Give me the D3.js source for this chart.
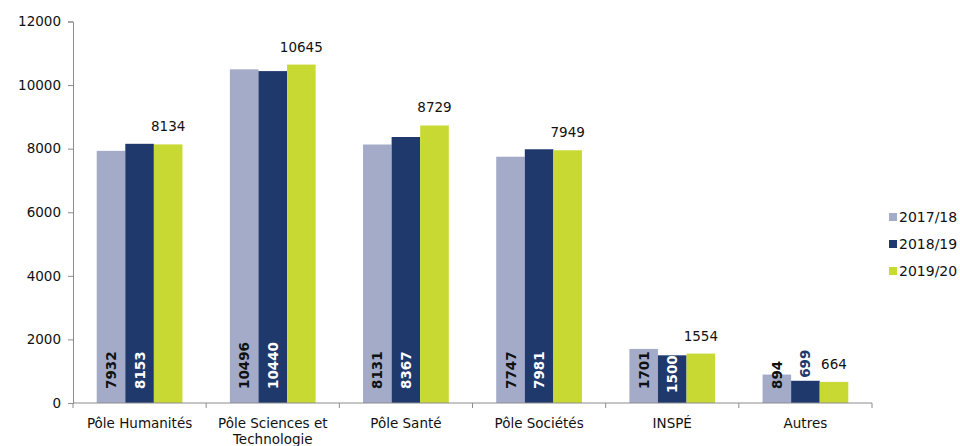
<!DOCTYPE html>
<html><head><meta charset="utf-8">
<script src="https://cdn.jsdelivr.net/npm/d3@7"></script>
<style>
body{margin:0;background:#fff;}
svg{display:block;font-family:"DejaVu Sans",sans-serif;}
</style></head>
<body><svg id="c" width="960" height="446"></svg>
<script>
const categories = ["Pôle Humanités","Pôle Sciences et Technologie","Pôle Santé","Pôle Sociétés","INSPÉ","Autres"];
const seriesNames = ["2017/18","2018/19","2019/20"];
const values2017 = [7932,10496,8131,7747,1701,894];
const values2018 = [8153,10440,8367,7981,1500,699];
const values2019 = [8134,10645,8729,7949,1554,664];
const yTicks = [0,2000,4000,6000,8000,10000,12000];
const colors = ["#a3abc8","#1f396d","#c9d934"];

const svg = d3.select("#c");
const x0 = d3.scaleBand().domain(categories).range([73,872]).paddingInner(0).paddingOuter(0);
const x1 = d3.scaleBand().domain(seriesNames).range([0,x0.bandwidth()]).paddingInner(0).paddingOuter(0.83);
const y = d3.scaleLinear().domain([0,12000]).range([403,21.5]);

const allVals = [values2017,values2018,values2019];

// bars
categories.forEach((c,i)=>{
  seriesNames.forEach((s,j)=>{
    const v = allVals[j][i];
    svg.append("rect")
      .attr("x", x0(c)+x1(s)).attr("y", y(v))
      .attr("width", x1.bandwidth()).attr("height", y(0)-y(v))
      .attr("fill", colors[j]);
  });
});

// y axis
const yAxis = svg.append("g").attr("transform","translate(73,0)")
  .call(d3.axisLeft(y).tickValues(yTicks).tickSize(5).tickPadding(7).tickFormat(d3.format("d")));
yAxis.select(".domain").attr("stroke","#8c8c8c");
yAxis.selectAll(".tick line").attr("stroke","#8c8c8c");
yAxis.selectAll("text").attr("font-size",13.5).attr("fill","#111").attr("font-family","DejaVu Sans, sans-serif");

// x axis line and ticks at boundaries
const xg = svg.append("g");
xg.append("line").attr("x1",73).attr("x2",872).attr("y1",y(0)).attr("y2",y(0)).attr("stroke","#8c8c8c");
const bounds = categories.map(c=>x0(c)).concat([x0(categories[categories.length-1])+x0.bandwidth()]);
bounds.forEach(b=>{
  xg.append("line").attr("x1",b).attr("x2",b).attr("y1",y(0)).attr("y2",y(0)+5).attr("stroke","#8c8c8c");
});
// x labels
categories.forEach(c=>{
  const cx = x0(c)+x0.bandwidth()/2;
  const t = svg.append("text").attr("x",cx).attr("y",428).attr("text-anchor","middle")
    .attr("font-size",13.5).attr("fill","#111");
  if (c==="Pôle Sciences et Technologie") {
    t.append("tspan").attr("x",cx).attr("dy",0).text("Pôle Sciences et");
    t.append("tspan").attr("x",cx).attr("dy",16).text("Technologie");
  } else t.text(c);
});

function baseLabel(cx, v, fill){
  const t = svg.append("text").attr("font-size",13.5).attr("font-weight","bold").attr("fill",fill).text(v);
  const len = t.node().getComputedTextLength();
  let bottom = y(0)-14;
  const fitBottom = y(v)+len;
  if (fitBottom <= y(0)-5) bottom = Math.max(bottom, fitBottom);
  t.attr("transform",`translate(${cx},${bottom}) rotate(-90)`);
}

// value labels
categories.forEach((c,i)=>{
  const s3 = seriesNames[2];
  svg.append("text").attr("x", x0(c)+x1(s3)+x1.bandwidth()/2).attr("y", y(values2019[i])-13)
    .attr("text-anchor","middle").attr("font-size",13.5).attr("fill","#111").text(values2019[i]);
  const s1 = seriesNames[0];
  baseLabel(x0(c)+x1(s1)+x1.bandwidth()/2+5, values2017[i], "#111");
  const s2 = seriesNames[1];
  const cx2 = x0(c)+x1(s2)+x1.bandwidth()/2+5;
  const h = y(0)-y(values2018[i]);
  if (h > 40) {
    baseLabel(cx2, values2018[i], "#fff");
  } else {
    svg.append("text").attr("transform",`translate(${cx2},${y(values2018[i])-3}) rotate(-90)`)
      .attr("font-size",13.5).attr("font-weight","bold").attr("fill",colors[1]).text(values2018[i]);
  }
});

// legend
seriesNames.forEach((s,j)=>{
  const ly = 217 + j*27;
  svg.append("rect").attr("x",889).attr("y",ly-4).attr("width",8).attr("height",8).attr("fill",colors[j]);
  svg.append("text").attr("x",899).attr("y",ly+5).attr("font-size",14).attr("fill","#111").text(s);
});
</script></body></html>
